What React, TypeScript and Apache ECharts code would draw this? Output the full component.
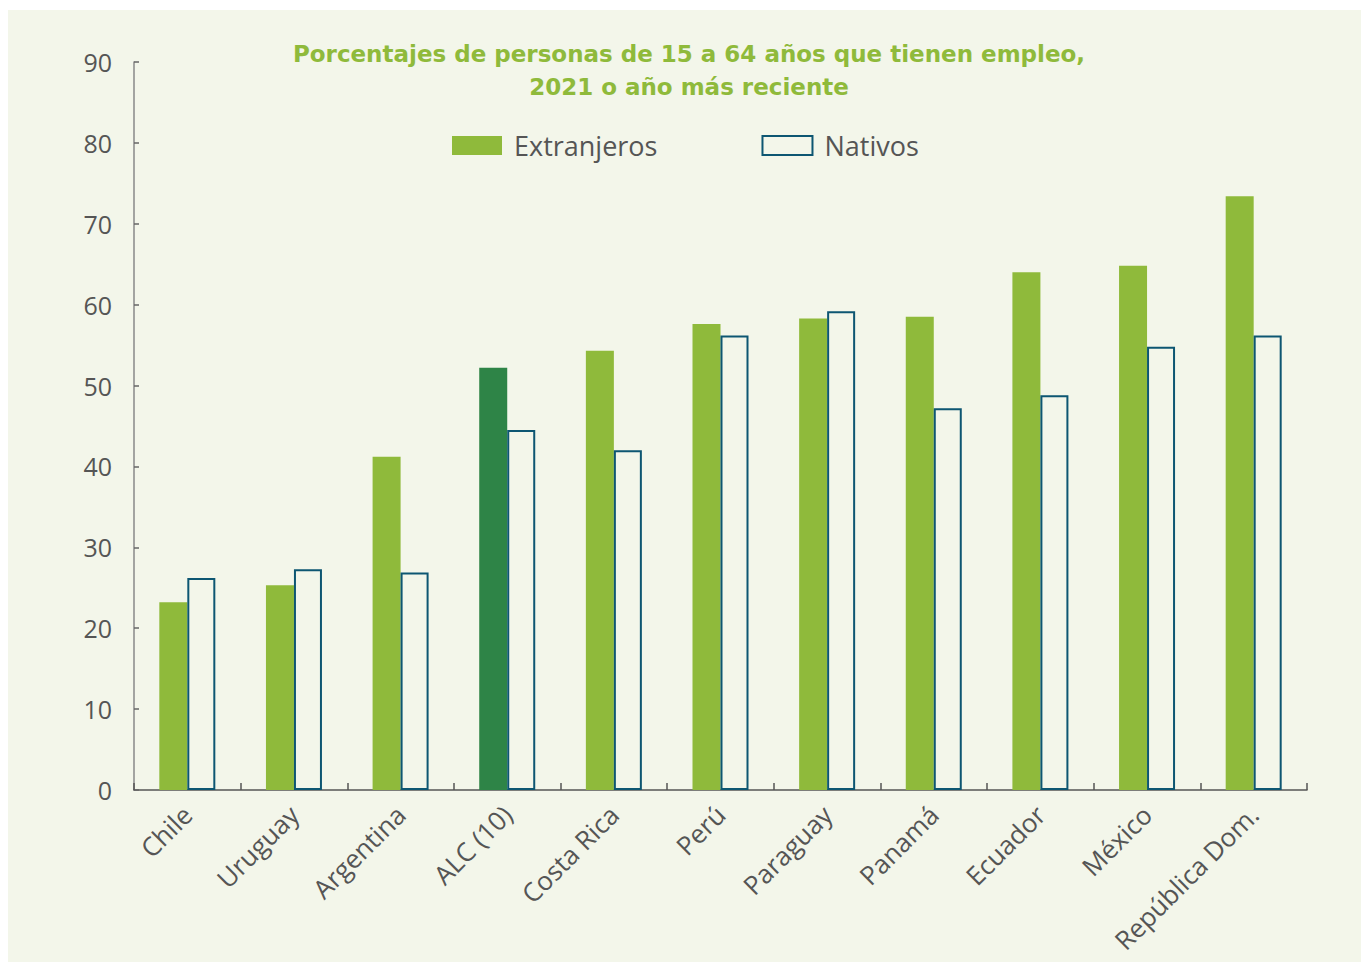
import React, { useEffect, useRef } from "react";
import * as echarts from "echarts";

const categories = ["Chile", "Uruguay", "Argentina", "ALC (10)", "Costa Rica", "Perú", "Paraguay", "Panamá", "Ecuador", "México", "República Dom."];
const extranjeros = [23.2, 25.3, 41.2, 52.2, 54.3, 57.6, 58.3, 58.5, 64.0, 64.8, 73.4];
const nativos = [26.2, 27.3, 26.9, 44.5, 42.0, 56.2, 59.2, 47.2, 48.8, 54.8, 56.2];
const highlightCategory = "ALC (10)";
const yTicks = { min: 0, max: 90, interval: 10 };
const titleLines = ["Porcentajes de personas de 15 a 64 años que tienen empleo,", "2021 o año más reciente"];

const BG = "#f3f6ea";
const GREEN = "#8fba3b";
const DARK_GREEN = "#2e8447";
const BLUE = "#0d5672";
const FONT = "'Open Sans', 'Noto Sans', sans-serif";
const TITLE_FONT = "'DejaVu Sans', 'Open Sans', sans-serif";

export default function App() {
  const ref = useRef<HTMLDivElement>(null);
  useEffect(() => {
    const chart = echarts.init(ref.current!, undefined, { renderer: "svg" });
    chart.setOption({
      animation: false,
      backgroundColor: BG,
      textStyle: { fontFamily: FONT },
      title: titleLines.map((t, i) => ({
        text: t,
        left: 676,
        top: 24 + i * 33,
        textAlign: "center",
        textStyle: { color: GREEN, fontSize: 23, fontWeight: "bold", lineHeight: 30, fontFamily: TITLE_FONT },
      })),
      legend: {
        top: 117,
        left: 439,
        icon: "rect",
        itemWidth: 50,
        itemHeight: 19,
        itemGap: 104,
        textStyle: { color: "#555", fontSize: 27, fontFamily: FONT, padding: [0, 0, 0, 7] },
        data: [
          { name: "Extranjeros", itemStyle: { color: GREEN } },
          { name: "Nativos", itemStyle: { color: BG, borderColor: BLUE, borderWidth: 2 } },
        ],
      },
      grid: { left: 126, right: 55, top: 52, bottom: 172, containLabel: false },
      xAxis: {
        type: "category",
        data: categories,
        axisLine: { lineStyle: { color: "#555", width: 1.5 } },
        axisTick: { show: true, inside: true, length: 7, lineStyle: { color: "#555", width: 1.5 } },
        axisLabel: { rotate: 45, color: "#555", fontSize: 26, margin: 20, fontFamily: FONT, interval: 0 },
      },
      yAxis: {
        type: "value",
        min: yTicks.min,
        max: yTicks.max,
        interval: yTicks.interval,
        splitLine: { show: false },
        axisLine: { show: true, lineStyle: { color: "#888", width: 1.5 } },
        axisTick: { show: true, inside: true, length: 5, lineStyle: { color: "#666", width: 1.5 } },
        axisLabel: { color: "#555", fontSize: 25, margin: 22, fontFamily: FONT },
      },
      series: [
        {
          name: "Extranjeros",
          type: "bar",
          barWidth: 28,
          barGap: "0%",
          itemStyle: { color: GREEN },
          data: extranjeros.map((v, i) =>
            categories[i] === highlightCategory ? { value: v, itemStyle: { color: DARK_GREEN } } : v
          ),
        },
        {
          name: "Nativos",
          type: "bar",
          barWidth: 28,
          barGap: "0%",
          itemStyle: { color: BG, borderColor: BLUE, borderWidth: 2 },
          data: nativos,
        },
      ],
    });
    return () => chart.dispose();
  }, []);
  return (
    <div style={{ paddingTop: 2 }}>
      <div ref={ref} style={{ width: 1354, height: 952 }} />
    </div>
  );
}
